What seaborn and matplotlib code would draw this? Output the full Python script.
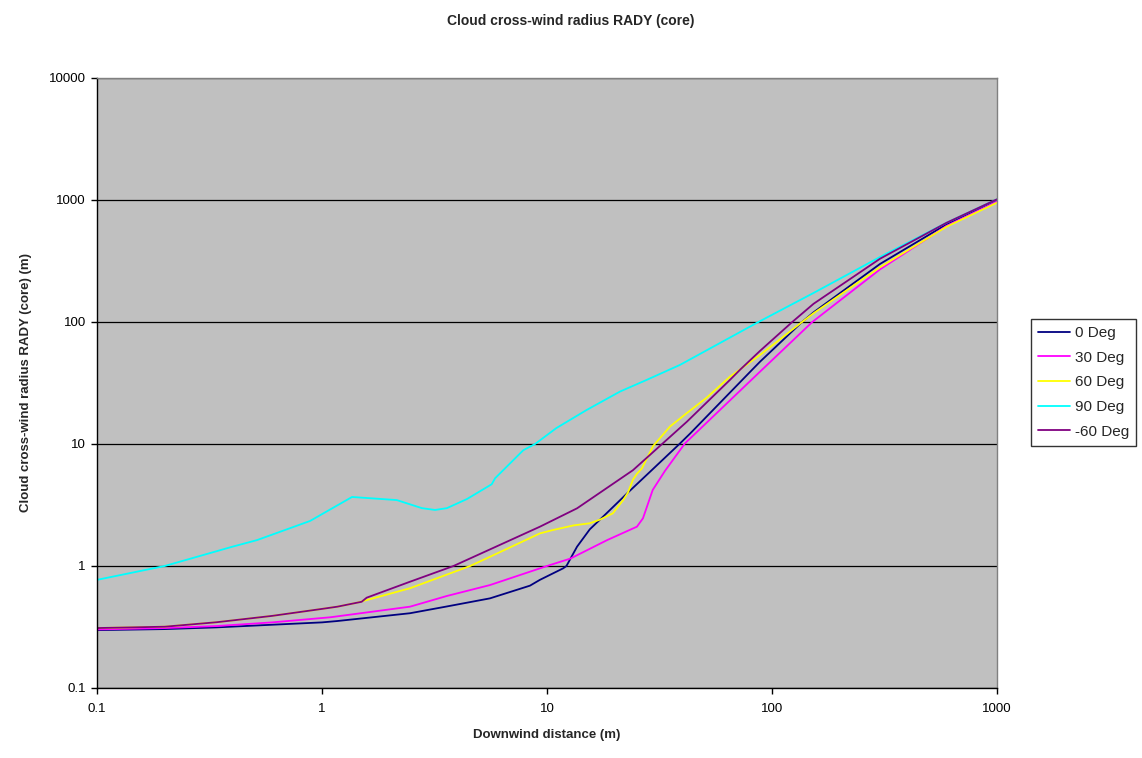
import numpy as np
import pandas as pd
import matplotlib
matplotlib.use("Agg")
import matplotlib.pyplot as plt
import seaborn as sns
from matplotlib.ticker import FixedLocator, FixedFormatter, NullLocator

# ---- data ----
series_names = ["0 Deg", "30 Deg", "60 Deg", "90 Deg", "-60 Deg"]
series_colors = ["#000080", "#FF00FF", "#FFFF00", "#00FFFF", "#800080"]

x_0 = [0.1, 0.2, 0.34, 0.6, 1.0, 1.17, 2.46, 3.59, 5.58, 8.4, 9.3, 11.8, 12.2, 13.6, 15.5, 17.2, 22.9, 29.2, 39.0, 43.3, 81.5, 88.5, 136, 153, 302, 597, 1000]
y_0 = [0.298, 0.304, 0.314, 0.33, 0.345, 0.354, 0.41, 0.466, 0.543, 0.69, 0.77, 0.957, 1.0, 1.44, 2.0, 2.4, 4.0, 6.1, 10.1, 12.2, 40.5, 47.3, 100, 120, 299, 632, 1000]

x_30 = [0.1, 0.2, 0.34, 0.6, 1.09, 2.46, 3.59, 5.58, 10.0, 12.7, 18.5, 25.1, 26.7, 29.5, 33.4, 41.0, 88.5, 151, 302, 597, 1000]
y_30 = [0.302, 0.31, 0.322, 0.345, 0.38, 0.464, 0.568, 0.698, 1.0, 1.15, 1.63, 2.1, 2.46, 4.2, 6.0, 10.1, 39.2, 100, 270, 613, 970]

x_60 = [0.1, 0.2, 0.34, 0.6, 1.0, 1.17, 1.43, 2.46, 4.55, 5.2, 9.3, 10.6, 13.1, 15.5, 17.2, 19.6, 21.8, 22.9, 24.1, 25.1, 26.4, 29.6, 35.2, 41.8, 51.3, 65, 88.5, 136, 153, 302, 597, 1000]
y_60 = [0.31, 0.318, 0.346, 0.39, 0.445, 0.464, 0.5, 0.657, 1.0, 1.12, 1.85, 1.97, 2.15, 2.24, 2.4, 2.7, 3.47, 4.0, 5.1, 5.7, 6.3, 9.6, 13.9, 17.9, 24.0, 35.6, 53.7, 100, 118, 281, 604, 951]

x_90 = [0.1, 0.2, 0.4, 0.514, 0.885, 1.36, 2.15, 2.78, 3.18, 3.59, 4.41, 5.68, 5.88, 7.85, 8.85, 11.0, 15.0, 21.1, 27.7, 39.0, 87, 153, 302, 597, 1000]
y_90 = [0.77, 1.0, 1.44, 1.63, 2.34, 3.68, 3.47, 2.98, 2.88, 2.98, 3.54, 4.68, 5.24, 8.9, 10.0, 13.5, 19.0, 26.9, 33.5, 44.5, 100, 173, 341, 651, 1014]

x_m60 = [0.1, 0.2, 0.34, 0.6, 1.0, 1.17, 1.5, 1.58, 2.46, 3.84, 9.3, 13.6, 24.1, 41.8, 65, 72, 88.5, 123, 153, 302, 597, 1000]
y_m60 = [0.31, 0.318, 0.346, 0.39, 0.445, 0.464, 0.509, 0.55, 0.743, 1.0, 2.1, 2.97, 6.1, 15.2, 33.5, 40.5, 58.0, 100, 141, 330, 651, 1014]

x_ticks = [0.1, 1, 10, 100, 1000]
x_tick_labels = ["0.1", "1", "10", "100", "1000"]
y_ticks = [0.1, 1, 10, 100, 1000, 10000]
y_tick_labels = ["0.1", "1", "10", "100", "1000", "10000"]

title = "Cloud cross-wind radius RADY (core)"
x_label = "Downwind distance (m)"
y_label = "Cloud cross-wind radius RADY (core) (m)"

# ---- build long-form data ----
xs = [x_0, x_30, x_60, x_90, x_m60]
ys = [y_0, y_30, y_60, y_90, y_m60]
frames = []
for name, xv, yv in zip(series_names, xs, ys):
    frames.append(pd.DataFrame({"x": xv, "y": yv, "series": name}))
df = pd.concat(frames, ignore_index=True)

sns.set_theme(style="white")
plt.rcParams["font.family"] = ["Liberation Sans", "DejaVu Sans"]

fig = plt.figure(figsize=(11.42, 7.58), dpi=100)
fig.patch.set_facecolor("white")
ax = fig.add_axes([97 / 1142, 1 - 688 / 758, 900 / 1142, 610 / 758])
ax.set_facecolor("#C0C0C0")

sns.lineplot(data=df, x="x", y="y", hue="series", hue_order=series_names,
             palette=dict(zip(series_names, series_colors)), sort=False,
             estimator=None, linewidth=1.3, ax=ax, legend=True)

ax.set_xscale("log")
ax.set_yscale("log")
ax.set_xlim(0.1, 1000)
ax.set_ylim(0.1, 10000)

ax.xaxis.set_major_locator(FixedLocator(x_ticks))
ax.xaxis.set_major_formatter(FixedFormatter(x_tick_labels))
ax.yaxis.set_major_locator(FixedLocator(y_ticks))
ax.yaxis.set_major_formatter(FixedFormatter(y_tick_labels))
ax.xaxis.set_minor_locator(NullLocator())
ax.yaxis.set_minor_locator(NullLocator())

ax.grid(False)
ax.yaxis.grid(True, color="black", linewidth=0.9)
ax.set_axisbelow(True)

for side in ["left", "bottom"]:
    ax.spines[side].set_color("black")
    ax.spines[side].set_linewidth(1.0)
for side in ["top", "right"]:
    ax.spines[side].set_color("#808080")
    ax.spines[side].set_linewidth(1.0)

ax.tick_params(axis="both", which="major", direction="out", length=4, width=1,
               color="black", labelsize=9.5, labelcolor="black")
ax.tick_params(axis="x", which="major", bottom=True, top=False, pad=7)
ax.tick_params(axis="y", which="major", left=True, right=False, pad=4)

ax.set_xlabel(x_label, fontsize=9.5, fontweight="bold", labelpad=10)
ax.set_ylabel(y_label, fontsize=9.5, fontweight="bold", labelpad=12)
fig.text(0.5, 1 - 21 / 758, title, ha="center", va="center", fontsize=10, fontweight="bold")

handles, labels = ax.get_legend_handles_labels()
leg = ax.legend(handles, labels, loc="upper left", bbox_to_anchor=(1031 / 1142, 1 - 319 / 758),
                bbox_transform=fig.transFigure, frameon=True, fancybox=False, fontsize=11,
                handlelength=2.1, handletextpad=0.3, labelspacing=0.7, borderpad=0.45,
                borderaxespad=0)
leg.get_frame().set_edgecolor("black")
leg.get_frame().set_linewidth(1.0)
leg.get_frame().set_facecolor("white")
for line in leg.get_lines():
    line.set_linewidth(1.3)

fig.savefig("out.png", dpi=100, facecolor="white")
